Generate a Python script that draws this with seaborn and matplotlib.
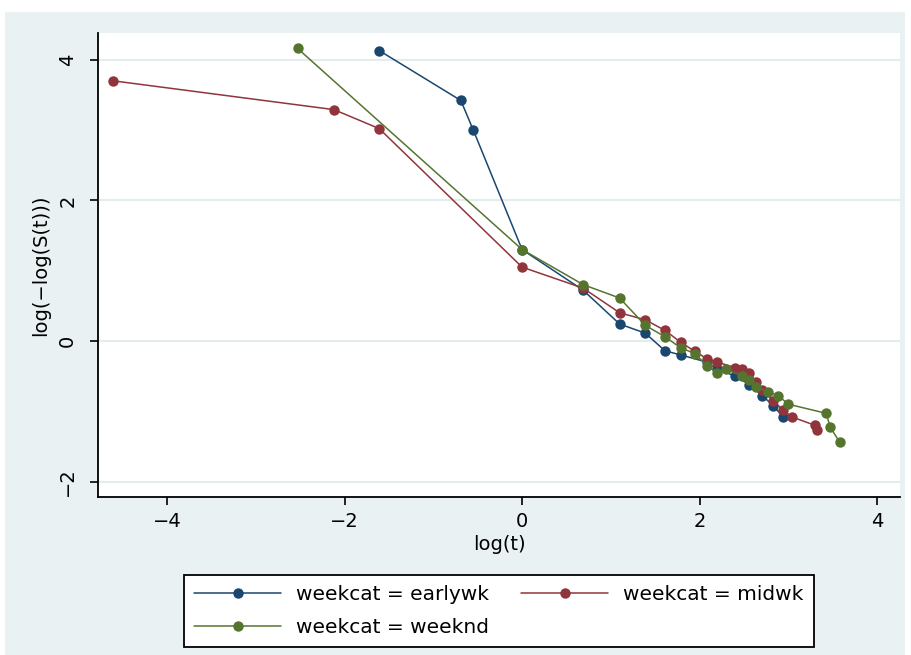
import matplotlib
matplotlib.use("Agg")
import matplotlib.pyplot as plt
from matplotlib.patches import Rectangle
from matplotlib.lines import Line2D
import seaborn as sns
import pandas as pd

# ---- data ----
early_x = [-1.61, -0.69, -0.55, 0.0, 0.69, 1.10, 1.39, 1.61, 1.79, 2.08, 2.20, 2.40, 2.56, 2.71, 2.83, 2.94]
early_y = [4.13, 3.42, 3.00, 1.30, 0.72, 0.24, 0.11, -0.14, -0.20, -0.30, -0.40, -0.50, -0.62, -0.78, -0.92, -1.08]

mid_x = [-4.61, -2.12, -1.61, 0.0, 0.69, 1.10, 1.39, 1.61, 1.79, 1.95, 2.08, 2.20, 2.40, 2.48, 2.56,
         2.64, 2.71, 2.83, 2.94, 3.04, 3.30, 3.33]
mid_y = [3.70, 3.29, 3.02, 1.05, 0.75, 0.40, 0.30, 0.15, -0.02, -0.15, -0.25, -0.30, -0.38, -0.40, -0.45,
         -0.58, -0.70, -0.85, -0.98, -1.08, -1.20, -1.27]

wknd_x = [-2.53, 0.0, 0.69, 1.10, 1.39, 1.61, 1.79, 1.95, 2.08, 2.20, 2.30, 2.48, 2.56, 2.64, 2.77,
          2.89, 3.00, 3.43, 3.47, 3.58]
wknd_y = [4.16, 1.30, 0.80, 0.61, 0.22, 0.06, -0.10, -0.18, -0.35, -0.45, -0.40, -0.50, -0.56, -0.66, -0.72,
          -0.78, -0.90, -1.03, -1.22, -1.44]

categories = ["weekcat = earlywk", "weekcat = midwk", "weekcat = weeknd"]
x_ticks = [-4, -2, 0, 2, 4]
y_ticks = [-2, 0, 2, 4]
x_label = "log(t)"
y_label = "log(\u2212log(S(t)))"

colors = ["#1a476f", "#90353b", "#55752f"]

df = pd.concat([
    pd.DataFrame({"logt": early_x, "lls": early_y, "weekcat": categories[0]}),
    pd.DataFrame({"logt": mid_x, "lls": mid_y, "weekcat": categories[1]}),
    pd.DataFrame({"logt": wknd_x, "lls": wknd_y, "weekcat": categories[2]}),
], ignore_index=True)

sns.set_style("ticks")
plt.rcParams["font.family"] = ["DejaVu Sans"]
plt.rcParams["text.color"] = "black"
plt.rcParams["axes.labelcolor"] = "black"
plt.rcParams["xtick.color"] = "black"
plt.rcParams["ytick.color"] = "black"

W, H = 912, 655
fig = plt.figure(figsize=(W / 100, H / 100), dpi=100)
fig.patch.set_facecolor("white")
fig.add_artist(Rectangle((5 / W, 0), 900 / W, (H - 12) / H, transform=fig.transFigure,
                         facecolor="#e9f1f3", edgecolor="none", zorder=-10))

ax = fig.add_axes([98 / W, 1 - 497 / H, (900 - 98) / W, (497 - 33) / H])
ax.set_facecolor("white")

pal = dict(zip(categories, colors))
sns.lineplot(data=df, x="logt", y="lls", hue="weekcat", palette=pal, hue_order=categories,
             estimator=None, sort=False, marker="o", markersize=7.5, markeredgewidth=0,
             linewidth=1.1, legend=False, ax=ax, zorder=3)

ax.set_xlim(-4.78, 4.26)
ax.set_ylim(-2.22, 4.38)
ax.set_xticks(x_ticks)
ax.set_yticks(y_ticks)
ax.set_xticklabels([str(v).replace("-", "\u2212") for v in x_ticks])
ax.set_yticklabels([str(v).replace("-", "\u2212") for v in y_ticks], rotation=90, va="center")

for s in ["top", "right"]:
    ax.spines[s].set_visible(False)
for s in ["left", "bottom"]:
    ax.spines[s].set_color("black")
    ax.spines[s].set_linewidth(1.3)

ax.tick_params(direction="out", length=6, width=1.2, color="black", labelcolor="black",
               labelsize=14, pad=5)
ax.tick_params(axis="y", pad=9)
ax.yaxis.grid(True, color="#e4ecee", linewidth=1.5)
ax.xaxis.grid(False)
ax.set_axisbelow(True)

ax.set_xlabel(x_label, fontsize=14, labelpad=3, color="black")
ax.set_ylabel(y_label, fontsize=14, labelpad=6, color="black")

handles = [Line2D([0], [0], color=c, lw=1.1, marker="o", markersize=7.5, markeredgewidth=0) for c in colors]
order = [0, 2, 1]
leg = fig.legend([handles[i] for i in order], [categories[i] for i in order],
                 loc="center", bbox_to_anchor=(499 / W, 1 - 611 / H), ncol=2,
                 fontsize=14.5, frameon=True, fancybox=False, handlelength=4.3,
                 handletextpad=0.75, columnspacing=1.6, labelspacing=0.7, borderpad=0.5)
for t in leg.get_texts():
    t.set_color("black")
leg.get_frame().set_edgecolor("black")
leg.get_frame().set_linewidth(1.3)
leg.get_frame().set_facecolor("white")
leg.get_frame().set_alpha(1)

fig.savefig("out.png", dpi=100, facecolor=fig.get_facecolor())
